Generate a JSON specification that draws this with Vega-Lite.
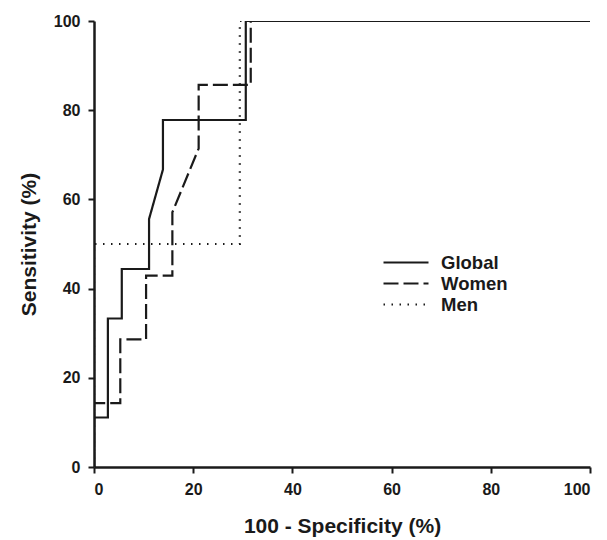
{
  "$schema": "https://vega.github.io/schema/vega-lite/v6.json",
  "width": 496,
  "height": 446,
  "autosize": "none",
  "padding": {"left": 94, "top": 21, "right": 17, "bottom": 73},
  "background": "white",
  "config": {
    "view": {"stroke": null},
    "font": "Liberation Sans",
    "axis": {
      "domainColor": "#1a1a1a",
      "domainWidth": 2.5,
      "tickColor": "#1a1a1a",
      "tickWidth": 2,
      "tickSize": 6,
      "grid": false,
      "labelFont": "Liberation Sans",
      "labelFontWeight": "bold",
      "labelFontSize": 16,
      "labelColor": "#1a1a1a",
      "titleFont": "Liberation Sans",
      "titleFontWeight": "bold",
      "titleFontSize": 21,
      "titleColor": "#1a1a1a"
    }
  },
  "data": {
    "values": [
      {"series": "Global", "i": 0, "x": 0, "y": 0},
      {"series": "Global", "i": 1, "x": 0, "y": 11.1},
      {"series": "Global", "i": 2, "x": 2.8, "y": 11.1},
      {"series": "Global", "i": 3, "x": 2.8, "y": 33.3},
      {"series": "Global", "i": 4, "x": 5.6, "y": 33.3},
      {"series": "Global", "i": 5, "x": 5.6, "y": 44.4},
      {"series": "Global", "i": 6, "x": 11.1, "y": 44.4},
      {"series": "Global", "i": 7, "x": 11.1, "y": 55.6},
      {"series": "Global", "i": 8, "x": 13.9, "y": 66.7},
      {"series": "Global", "i": 9, "x": 13.9, "y": 77.8},
      {"series": "Global", "i": 10, "x": 30.6, "y": 77.8},
      {"series": "Global", "i": 11, "x": 30.6, "y": 100},
      {"series": "Global", "i": 12, "x": 100, "y": 100},
      {"series": "Women", "i": 0, "x": 0, "y": 0},
      {"series": "Women", "i": 1, "x": 0, "y": 14.3},
      {"series": "Women", "i": 2, "x": 5.3, "y": 14.3},
      {"series": "Women", "i": 3, "x": 5.3, "y": 28.6},
      {"series": "Women", "i": 4, "x": 10.5, "y": 28.6},
      {"series": "Women", "i": 5, "x": 10.5, "y": 42.9},
      {"series": "Women", "i": 6, "x": 15.8, "y": 42.9},
      {"series": "Women", "i": 7, "x": 15.8, "y": 57.1},
      {"series": "Women", "i": 8, "x": 21.1, "y": 71.4},
      {"series": "Women", "i": 9, "x": 21.1, "y": 85.7},
      {"series": "Women", "i": 10, "x": 31.6, "y": 85.7},
      {"series": "Women", "i": 11, "x": 31.6, "y": 100},
      {"series": "Women", "i": 12, "x": 100, "y": 100},
      {"series": "Men", "i": 0, "x": 0, "y": 0},
      {"series": "Men", "i": 1, "x": 0, "y": 50},
      {"series": "Men", "i": 2, "x": 29.4, "y": 50},
      {"series": "Men", "i": 3, "x": 29.4, "y": 100},
      {"series": "Men", "i": 4, "x": 100, "y": 100}
    ]
  },
  "mark": {"type": "line", "color": "#1a1a1a", "clip": true},
  "encoding": {
    "x": {
      "field": "x",
      "type": "quantitative",
      "scale": {"domain": [0, 100], "nice": false},
      "axis": {"values": [0, 20, 40, 60, 80, 100], "title": "100 - Specificity (%)", "labelPadding": 8, "titlePadding": 18}
    },
    "y": {
      "field": "y",
      "type": "quantitative",
      "scale": {"domain": [0, 100], "nice": false},
      "axis": {"values": [0, 20, 40, 60, 80, 100], "title": "Sensitivity (%)", "labelPadding": 8, "titlePadding": 14}
    },
    "order": {"field": "i", "type": "quantitative"},
    "detail": {"field": "series"},
    "strokeDash": {
      "field": "series",
      "type": "nominal",
      "scale": {"domain": ["Global", "Women", "Men"], "range": [[1, 0], [15, 5], [1.5, 6.5]]},
      "legend": {
        "title": null,
        "orient": "none",
        "legendX": 288,
        "legendY": 232,
        "symbolType": "stroke",
        "symbolSize": 2025,
        "symbolStrokeColor": "#1a1a1a",
        "labelFont": "Liberation Sans",
        "labelFontWeight": "bold",
        "labelFontSize": 18.5,
        "labelColor": "#1a1a1a",
        "labelOffset": 11,
        "clipHeight": 19,
        "rowPadding": 2
      }
    },
    "strokeWidth": {
      "field": "series",
      "type": "nominal",
      "scale": {"domain": ["Global", "Women", "Men"], "range": [2.2, 2.2, 1.5]},
      "legend": {
        "title": null,
        "orient": "none",
        "legendX": 288,
        "legendY": 232,
        "symbolType": "stroke",
        "symbolSize": 2025,
        "symbolStrokeColor": "#1a1a1a",
        "labelFont": "Liberation Sans",
        "labelFontWeight": "bold",
        "labelFontSize": 18.5,
        "labelColor": "#1a1a1a",
        "labelOffset": 11,
        "clipHeight": 19,
        "rowPadding": 2
      }
    }
  }
}
